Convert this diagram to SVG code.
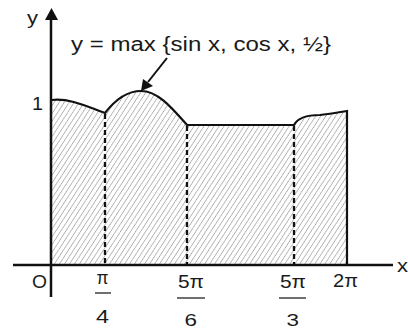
<svg xmlns="http://www.w3.org/2000/svg" width="408" height="331" viewBox="0 0 408 331">
<defs>
<pattern id="hatch" patternUnits="userSpaceOnUse" width="4.2" height="4" patternTransform="rotate(33)">
<line x1="0" y1="0" x2="0" y2="4" stroke="#222" stroke-width="0.8" stroke-dasharray="1.6,0.5"/>
</pattern>
</defs>
<style>
text{font-family:"Liberation Sans",Arial,sans-serif;fill:#1a1a1a;}
.ax{stroke:#111;stroke-width:2.5;fill:none;}
.cv{stroke:#111;stroke-width:2.2;fill:none;}
.ds{stroke:#111;stroke-width:2.3;stroke-dasharray:5,3;fill:none;}
.fr{stroke:#111;stroke-width:1.2;}
</style>
<g id="region">
<path d="M52,100 C70,98 88,107 105,113 C115,100 128,91 141,91 C158,91 172,108 187,125 L294,125 C298,117 308,115 320,115 C330,114 340,112 347,111 L347,265 L52,265 Z" fill="url(#hatch)" stroke="none"/>
<path class="cv" d="M52,100 C70,98 88,107 105,113 C115,100 128,91 141,91 C158,91 172,108 187,125 L294,125 C298,117 308,115 320,115 C330,114 340,112 347,111 L347,265"/>
</g>
<g id="connectors">
<line class="ds" x1="105" y1="114" x2="105" y2="264"/>
<line class="ds" x1="187" y1="126" x2="187" y2="264"/>
<line class="ds" x1="294" y1="126" x2="294" y2="264"/>
<line x1="167" y1="58" x2="148" y2="82" stroke="#111" stroke-width="2"/>
<polygon points="141,91 143,79 153,86" fill="#111"/>
</g>
<g id="axes">
<line class="ax" x1="13" y1="265" x2="393" y2="265"/>
<line class="ax" x1="51" y1="18" x2="51" y2="297"/>
<polygon points="51.5,8 45,20 58,20" fill="#111"/>
</g>
<g id="labels">
<text x="27" y="24" font-size="18" textLength="11" lengthAdjust="spacingAndGlyphs">y</text>
<text x="32" y="110" font-size="18" textLength="11" lengthAdjust="spacingAndGlyphs">1</text>
<text x="32" y="288" font-size="18" textLength="15" lengthAdjust="spacingAndGlyphs">O</text>
<text x="397" y="272" font-size="19" textLength="11" lengthAdjust="spacingAndGlyphs">x</text>
<text x="71" y="51" font-size="20" textLength="260" lengthAdjust="spacingAndGlyphs">y = max {sin x, cos x, ½}</text>
<text x="96.5" y="284" font-size="17.5" textLength="12" lengthAdjust="spacingAndGlyphs">π</text>
<line class="fr" x1="95" y1="293" x2="111" y2="293"/>
<text x="96" y="323" font-size="18" textLength="13" lengthAdjust="spacingAndGlyphs">4</text>
<text x="178" y="288" font-size="17.5" textLength="26" lengthAdjust="spacingAndGlyphs">5π</text>
<line class="fr" x1="177" y1="298" x2="205" y2="298"/>
<text x="184.5" y="326" font-size="17" textLength="12.5" lengthAdjust="spacingAndGlyphs">6</text>
<text x="280" y="288" font-size="17.5" textLength="26" lengthAdjust="spacingAndGlyphs">5π</text>
<line class="fr" x1="279" y1="298" x2="306" y2="298"/>
<text x="286.5" y="326" font-size="17" textLength="12.5" lengthAdjust="spacingAndGlyphs">3</text>
<text x="333" y="287" font-size="17.5" textLength="25" lengthAdjust="spacingAndGlyphs">2π</text>
</g>
</svg>
